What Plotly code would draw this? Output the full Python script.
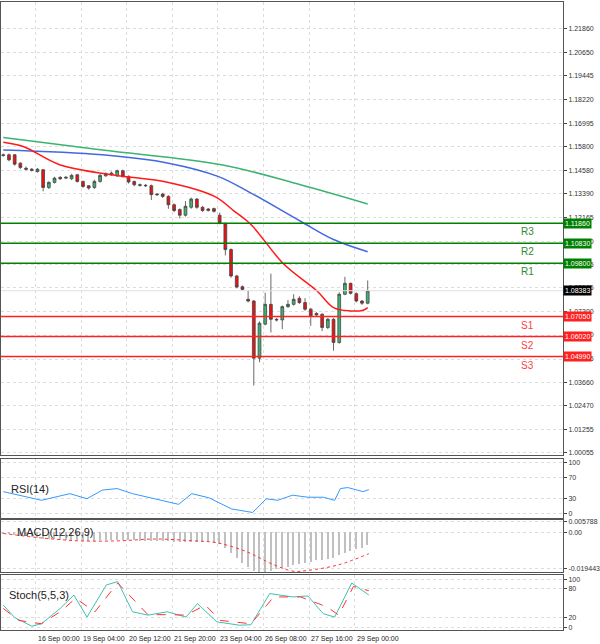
import plotly.graph_objects as go

opens = [1.1538,1.1538,1.1538,1.1495,1.1469,1.1464,1.1452,1.1461,1.1370,1.1396,1.1422,1.1418,1.1415,1.1435,1.1401,1.1379,1.1370,1.1401,1.1430,1.1435,1.1430,1.1456,1.1427,1.1401,1.1384,1.1381,1.1379,1.1336,1.1336,1.1324,1.1281,1.1256,1.1227,1.1268,1.1310,1.1268,1.1259,1.1261,1.1227,1.1182,1.1050,1.0914,1.0859,1.0794,1.0785,1.0491,1.0666,1.0768,1.0691,1.0688,1.0756,1.0768,1.0799,1.0777,1.0743,1.0721,1.0717,1.0649,1.0691,1.0572,1.0820,1.0876,1.0823,1.0785,1.0774]
closes = [1.1535,1.1512,1.1490,1.1473,1.1464,1.1458,1.1464,1.1370,1.1396,1.1418,1.1415,1.1422,1.1432,1.1401,1.1375,1.1367,1.1401,1.1432,1.1440,1.1444,1.1456,1.1427,1.1398,1.1384,1.1381,1.1379,1.1333,1.1333,1.1324,1.1281,1.1251,1.1227,1.1273,1.1310,1.1268,1.1251,1.1252,1.1247,1.1187,1.1050,1.0914,1.0857,1.0845,1.0785,1.0491,1.0671,1.0768,1.0691,1.0688,1.0756,1.0768,1.0794,1.0777,1.0743,1.0709,1.0714,1.0649,1.0691,1.0572,1.0820,1.0876,1.0825,1.0785,1.0774,1.0838]
highs = [1.1545,1.1545,1.1542,1.1500,1.1478,1.1470,1.1470,1.1465,1.1402,1.1425,1.1428,1.1428,1.1440,1.1440,1.1405,1.1382,1.1410,1.1440,1.1448,1.1452,1.1462,1.1462,1.1432,1.1405,1.1390,1.1388,1.1385,1.1340,1.1342,1.1330,1.1288,1.1262,1.1300,1.1318,1.1315,1.1274,1.1264,1.1266,1.1240,1.1190,1.1056,1.0920,1.0865,1.0840,1.0790,1.0680,1.0828,1.0926,1.0698,1.0762,1.0790,1.0820,1.0810,1.0800,1.0750,1.0728,1.0722,1.0698,1.0698,1.0830,1.0910,1.0880,1.0830,1.0790,1.0891]
lows = [1.1528,1.1505,1.1482,1.1465,1.1458,1.1452,1.1446,1.1350,1.1362,1.1390,1.1408,1.1412,1.1408,1.1395,1.1368,1.1358,1.1362,1.1395,1.1425,1.1430,1.1424,1.1420,1.1390,1.1376,1.1374,1.1372,1.1305,1.1326,1.1316,1.1260,1.1243,1.1210,1.1220,1.1260,1.1260,1.1244,1.1246,1.1240,1.1180,1.1020,1.0905,1.0850,1.0838,1.0778,1.0350,1.0470,1.0660,1.0623,1.0680,1.0640,1.0750,1.0762,1.0770,1.0735,1.0657,1.0705,1.0630,1.0640,1.0529,1.0565,1.0815,1.0818,1.0778,1.0765,1.0768]

ma_fast_x = [0,3.5,9.9,19.1,29,37.1,40.6,43.5,49.3,55.1,58,60.9,63.2,64]
ma_fast_y = [1.1603,1.1581,1.1487,1.1435,1.1396,1.1324,1.1247,1.1179,1.0974,1.0837,1.0751,1.0734,1.0738,1.0751]
ma_mid_x = [0,17.4,29,37.7,43.5,52.2,58,64]
ma_mid_y = [1.1563,1.1538,1.1495,1.1427,1.1341,1.1196,1.1102,1.1039]
ma_slow_x = [0,17.4,38.3,52.2,64]
ma_slow_y = [1.1627,1.1563,1.1487,1.1384,1.1285]

levels = [1.11860,1.10830,1.09800,1.07050,1.06020,1.04990]
level_names = ["R3","R2","R1","S1","S2","S3"]
last_price = 1.08383
price_ticks = [1.21860,1.20650,1.19445,1.18220,1.16995,1.15800,1.14580,1.13390,1.12165,1.10920,1.09725,1.08525,1.07300,1.06100,1.04865,1.03660,1.02470,1.01255,1.00055]

rsi_x = [0,6.7,11.7,14.7,17.4,20,22.7,26.8,30.8,33.1,36.1,40.1,43.8,46.2,48.2,50.8,53.5,56.2,58.2,59.2,60.5,63.2,64.2]
rsi_y = [43,26,39,29,46,49,39,29,18,39,31,9,2,29,26,36,32,32,26,49,51,43,47]

macd_hist = [-0.0006,-0.0010,-0.0014,-0.0018,-0.0022,-0.0026,-0.0030,-0.0034,-0.0036,-0.0038,-0.0040,-0.0040,-0.0042,-0.0044,-0.0046,-0.0046,-0.0046,-0.0044,-0.0044,-0.0044,-0.0042,-0.0042,-0.0042,-0.0044,-0.0046,-0.0046,-0.0046,-0.0048,-0.0048,-0.0048,-0.0050,-0.0052,-0.0052,-0.0050,-0.0050,-0.0052,-0.0052,-0.0056,-0.0066,-0.0086,-0.0110,-0.0140,-0.0165,-0.0185,-0.0210,-0.0215,-0.0212,-0.0208,-0.0200,-0.0192,-0.0185,-0.0176,-0.0170,-0.0165,-0.0160,-0.0152,-0.0148,-0.0145,-0.0140,-0.0120,-0.0110,-0.0100,-0.0090,-0.0085,-0.0070]
macd_sig_x = [0,6.7,13.4,20.1,26.8,33.4,37.5,42.8,46.8,50.8,53.5,58.9,64.2]
macd_sig_y = [-0.0006,-0.0030,-0.0046,-0.0046,-0.0036,-0.0046,-0.0056,-0.0105,-0.0165,-0.0209,-0.0205,-0.0175,-0.0115]

st_x = [0,2,5,6.7,10,12.4,14.7,18.1,20.1,22.7,25.4,28.8,32.1,34.1,37.5,41.5,43.5,46.8,50.8,53.5,56.2,58.2,61.2,64.2]
st_k = [46,20,2,7,39,67,21,88,95,32,25,32,21,49,11,4,5,70,63,65,28,21,92,67]
st_dx = [0,2.7,6.7,10,12.7,16.1,20.1,22.7,25.4,29.4,32.1,35.5,38.1,43.5,47.5,52.2,56.9,58.9,61.5,64.2]
st_d = [39,14,7,32,60,32,92,60,26,26,25,46,14,7,63,63,42,25,85,76]

xlabels = ["15 Sep 16:00","16 Sep 00:00","19 Sep 04:00","20 Sep 12:00","21 Sep 20:00","23 Sep 04:00","26 Sep 08:00","27 Sep 16:00","29 Sep 00:00"]

n = len(opens)
idx = list(range(n))
XR = [-0.4, 98.3]
fig = go.Figure()
fig.add_trace(go.Candlestick(x=idx, open=opens, high=highs, low=lows, close=closes,
    increasing=dict(line=dict(color="#444", width=0.8), fillcolor="#3cb371"),
    decreasing=dict(line=dict(color="#444", width=0.8), fillcolor="#ee1111"),
    whiskerwidth=0, xaxis="x", yaxis="y", showlegend=False))
for xs, ys, c in [(ma_slow_x, ma_slow_y, "#3cb371"), (ma_mid_x, ma_mid_y, "#4169e1"), (ma_fast_x, ma_fast_y, "#ff1a1a")]:
    fig.add_trace(go.Scatter(x=xs, y=ys, mode="lines", line=dict(color=c, width=1.5, shape="spline"), xaxis="x", yaxis="y", showlegend=False))
fig.add_trace(go.Scatter(x=rsi_x, y=rsi_y, mode="lines", line=dict(color="#3399ff", width=1), xaxis="x2", yaxis="y2", showlegend=False))
fig.add_trace(go.Bar(x=idx, y=macd_hist, marker=dict(color="#c0c0c0", line=dict(width=0)), width=0.25, xaxis="x3", yaxis="y3", showlegend=False))
fig.add_trace(go.Scatter(x=macd_sig_x, y=macd_sig_y, mode="lines", line=dict(color="#ff3333", width=1, dash="dot", shape="spline"), xaxis="x3", yaxis="y3", showlegend=False))
fig.add_trace(go.Scatter(x=st_x, y=st_k, mode="lines", line=dict(color="#40c0b0", width=1), xaxis="x4", yaxis="y4", showlegend=False))
fig.add_trace(go.Scatter(x=st_dx, y=st_d, mode="lines", line=dict(color="#ff3333", width=1, dash="dash"), xaxis="x4", yaxis="y4", showlegend=False))

shapes = []
ann = []
for i, (lv, nm) in enumerate(zip(levels, level_names)):
    col = "#008000" if nm.startswith("R") else "#ff2020"
    shapes.append(dict(type="line", xref="x domain", yref="y", x0=0, x1=1, y0=lv, y1=lv, line=dict(color=col, width=1.5)))
    ann.append(dict(xref="paper", yref="y", x=1.0, y=lv, xanchor="left", text=f"{lv:.5f}", showarrow=False,
                    font=dict(size=7, color="white"), bgcolor=col, borderpad=1))
    ann.append(dict(xref="x", yref="y", x=92, y=lv - 0.0045, text=nm, showarrow=False,
                    font=dict(size=10, color="#2e8b2e" if nm.startswith("R") else "#ff4040")))
shapes.append(dict(type="line", xref="x domain", yref="y", x0=0, x1=1, y0=last_price, y1=last_price, line=dict(color="#e0e0e0", width=1)))
ann.append(dict(xref="paper", yref="y", x=1.0, y=last_price, xanchor="left", text=f"{last_price:.5f}", showarrow=False,
                font=dict(size=7, color="white"), bgcolor="black", borderpad=1))
for i, t in enumerate(xlabels):
    ann.append(dict(xref="x4", yref="paper", x=-2.3 + 8 * i, y=-0.004, xanchor="left", yanchor="top", text=t, showarrow=False, font=dict(size=7, color="#222")))
ann.append(dict(xref="paper", yref="y2", x=0.015, y=48, text="RSI(14)", xanchor="left", showarrow=False, font=dict(size=11, color="#222")))
ann.append(dict(xref="paper", yref="y3", x=0.025, y=0.0, text="MACD(12,26,9)", xanchor="left", showarrow=False, font=dict(size=11, color="#222")))
ann.append(dict(xref="paper", yref="y4", x=0.01, y=66, text="Stoch(5,5,3)", xanchor="left", showarrow=False, font=dict(size=11, color="#222")))

ax = dict(range=XR, showgrid=True, gridcolor="#dddddd", griddash="dot", showticklabels=False, zeroline=False,
          tickvals=[-2.3 + 8 * i for i in range(9)], showline=True, linecolor="#555", mirror=True, rangeslider=dict(visible=False), fixedrange=True)
def yx(**kw):
    d = dict(side="right", showgrid=True, gridcolor="#dddddd", griddash="dot", zeroline=False, ticks="outside", ticklen=3,
             tickfont=dict(size=7, color="#333"), showline=True, linecolor="#555", mirror=True)
    d.update(kw)
    return d

fig.update_layout(
    width=600, height=644, margin=dict(l=0, r=34, t=0, b=14), paper_bgcolor="white", plot_bgcolor="white",
    font=dict(family="Liberation Sans"),
    xaxis=dict(ax, domain=[0, 1], anchor="y"),
    xaxis2=dict(ax, domain=[0, 1], anchor="y2", matches="x"),
    xaxis3=dict(ax, domain=[0, 1], anchor="y3", matches="x"),
    xaxis4=dict(ax, domain=[0, 1], anchor="y4", matches="x"),
    yaxis=yx(domain=[0.278, 1], range=[0.9990, 1.2325], tickvals=price_ticks, ticktext=[f"{v:.5f}" for v in price_ticks]),
    yaxis2=yx(domain=[0.179, 0.273], range=[-8, 108], tickvals=[0, 30, 70, 100]),
    yaxis3=yx(domain=[0.092, 0.175], range=[-0.0215, 0.0066], tickvals=[0.005788, 0.0, -0.019443], ticktext=["0.005788", "0.00", "-0.019443"]),
    yaxis4=yx(domain=[0, 0.087], range=[-6, 108], tickvals=[0, 20, 80, 100]),
    shapes=shapes, annotations=ann, bargap=0,
)
fig.write_html("out.html", config={"displayModeBar": False},
               post_script="document.body.style.margin='0';document.body.style.overflow='hidden';")
